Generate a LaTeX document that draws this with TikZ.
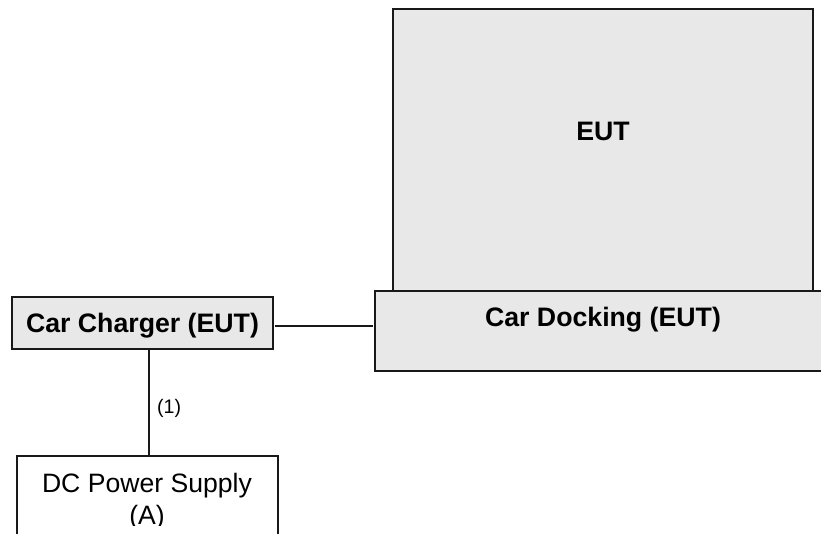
\documentclass[tikz,border=0pt]{standalone}
\usepackage{fontspec}
\setmainfont{Liberation Sans}
\tikzset{
  box/.style={draw=black!90, line width=2pt, inner sep=0pt, outer sep=0pt, align=center},
  euthing/.style={box, fill=black!9, font=\fontsize{26.7}{31.5}\selectfont\bfseries},
  plainbox/.style={box, fill=white, font=\fontsize{26.6}{31.5}\selectfont},
  wire/.style={draw=black!90, line width=2pt},
  tag/.style={font=\fontsize{19.6}{23}\selectfont, inner sep=0pt, anchor=base west}
}
\begin{document}
\begin{tikzpicture}[x=1pt,y=-1pt]
\useasboundingbox (0,0) rectangle (821,534);
\node[euthing, minimum width=420pt, minimum height=282pt, text height=2pt, text depth=20pt] (eut) at (603,150) {EUT};
\node[euthing, minimum width=457pt, minimum height=80pt, text height=6pt, text depth=14.6pt] (dock) at (603,331) {Car Docking (EUT)};
\node[euthing, minimum width=261pt, minimum height=52pt, text height=20pt, text depth=2pt] (charger) at (142.5,323) {Car Charger (EUT)};
\node[plainbox, minimum width=261pt, minimum height=104pt] (dc) at (147,508) {};
\begin{scope}
\clip (17,457) rectangle (277,525.5);
\node[font=\fontsize{26.6}{31.5}\selectfont, align=center, inner sep=0pt, anchor=base] (dclabel) at (147,524) {DC Power Supply\\(A)};
\end{scope}
\draw[wire, shorten <=1.5pt, shorten >=2pt] (charger.east |- 0,326) coordinate (wa) -- (dock.west |- 0,326) coordinate (wb);
\draw[wire] (charger.south -| 148.5,0) coordinate (va) -- (dc.north -| 148.5,0) coordinate (vb);
\node[tag] (one) at (157,413) {(1)};
\end{tikzpicture}
\end{document}
